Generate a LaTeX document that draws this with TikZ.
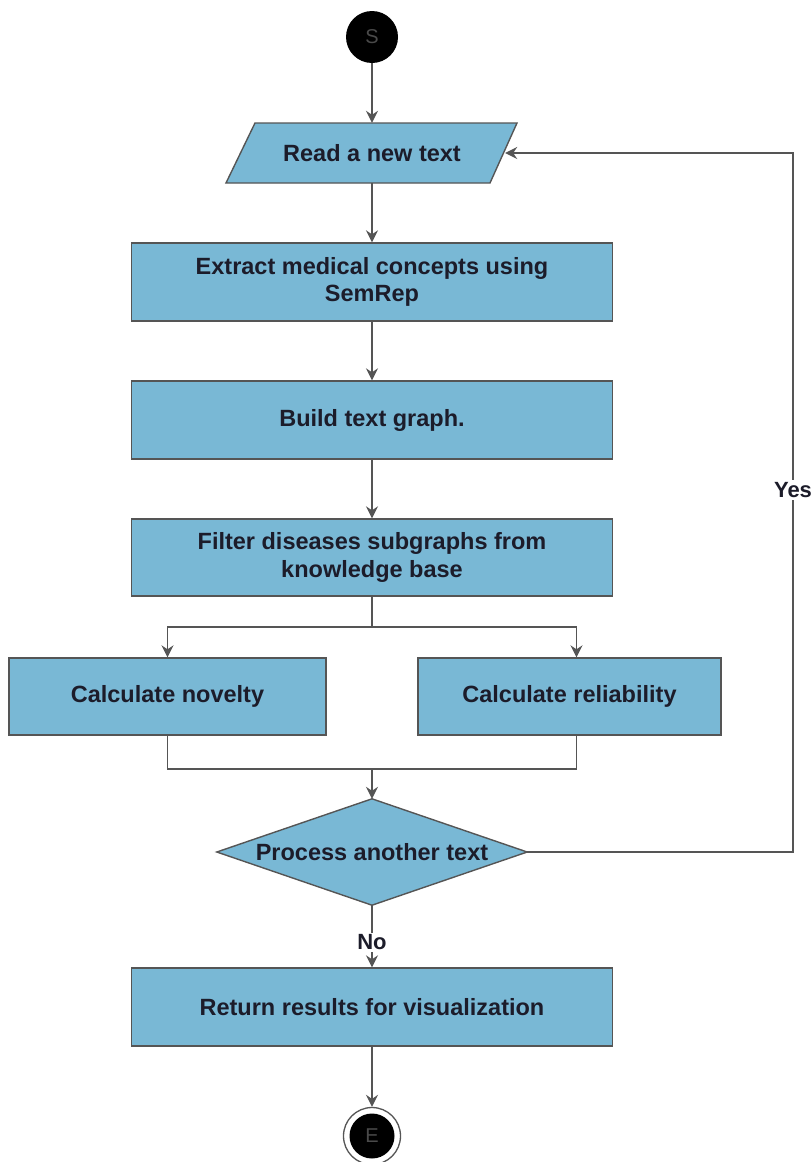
\documentclass[tikz,border=0pt]{standalone}
\usepackage{fontspec}
\setmainfont{Liberation Sans}
\usetikzlibrary{arrows.meta,calc}
\definecolor{boxfill}{HTML}{79B8D5}
\definecolor{linec}{HTML}{555555}
\definecolor{txt}{HTML}{1C1C2A}
\definecolor{termtxt}{HTML}{4A4A4A}
\begin{document}
\begin{tikzpicture}[x=1pt,y=-1pt,
  stepbox/.style={draw=linec, line width=1.4pt, fill=boxfill, minimum width=481pt,
    font=\fontsize{23.5}{27.5}\selectfont\bfseries, text=txt, align=center, inner sep=0pt},
  conn/.style={draw=linec, line width=1.6pt},
  arr/.style={conn, -{Stealth[length=12pt,width=12pt,inset=4pt]}},
  lbl/.style={fill=white, font=\fontsize{22}{26}\selectfont\bfseries, text=txt, inner sep=2pt},
  term/.style={circle, fill=black, inner sep=0pt, text=termtxt, font=\fontsize{20}{24}\selectfont}]
\useasboundingbox (0,0) rectangle (811,1162);

% start
\node[term, minimum size=52pt] (S) at (372,37) {S};

% parallelogram
\node[minimum width=266pt, minimum height=60pt, inner sep=0pt] (read) at (372,153) {};
\path[draw=linec, line width=1.4pt, fill=boxfill]
  (255,123) -- (517,123) -- (490,183) -- (226,183) -- cycle;
\node[font=\fontsize{23.5}{28}\selectfont\bfseries, text=txt] at (372,153) {Read a new text};

% boxes
\node[stepbox, minimum height=78pt] (b1) at (372,282) {Extract medical concepts using\\SemRep};
\node[stepbox, minimum height=78pt] (b2) at (372,420) {Build text graph.};
\node[stepbox, minimum height=77pt] (b3) at (372,557.5) {Filter diseases subgraphs from\\knowledge base};
\node[stepbox, minimum width=317pt, minimum height=77pt] (nov) at (167.5,696.5) {Calculate novelty};
\node[stepbox, minimum width=303pt, minimum height=77pt] (rel) at (569.5,696.5) {Calculate reliability};

% decision
\node[minimum width=310pt, minimum height=106pt, inner sep=0pt] (dec) at (372,852) {};
\path[draw=linec, line width=1.4pt, fill=boxfill]
  (dec.west) -- (dec.north) -- (dec.east) -- (dec.south) -- cycle;
\node[font=\fontsize{23.5}{28}\selectfont\bfseries, text=txt] at (372,852) {Process another text};

\node[stepbox, minimum height=78pt] (ret) at (372,1007) {Return results for visualization};

% end
\node[circle, draw=linec, line width=1.3pt, fill=white, minimum size=57pt, inner sep=0pt] (Ering) at (372,1136) {};
\node[term, minimum size=45pt] (E) at (372,1136) {E};

% connectors
\draw[arr] (S) -- (read);
\draw[arr] (read) -- (b1);
\draw[arr] (b1) -- (b2);
\draw[arr] (b2) -- (b3);
\coordinate (sp) at (372,627);
\draw[conn] (b3.south) -- (sp);
\draw[arr] (sp) -| (nov.north);
\draw[arr] (sp) -| ([xshift=7pt]rel.north);
\coordinate (jn) at (372,769);
\draw[conn] (nov.south) |- (jn) -| ([xshift=7pt]rel.south);
\draw[arr] (jn) -- (dec.north);
\coordinate (yb) at (793,852);
\coordinate (yt) at (793,153);
\draw[arr] (dec.east) -- (yb) -- node[lbl, pos=0.518] {Yes} (yt) -- (read.east);
\draw[arr] (dec.south) -- node[lbl, pos=0.6] {No} (ret.north);
\draw[arr] (ret) -- (Ering);
\end{tikzpicture}
\end{document}
